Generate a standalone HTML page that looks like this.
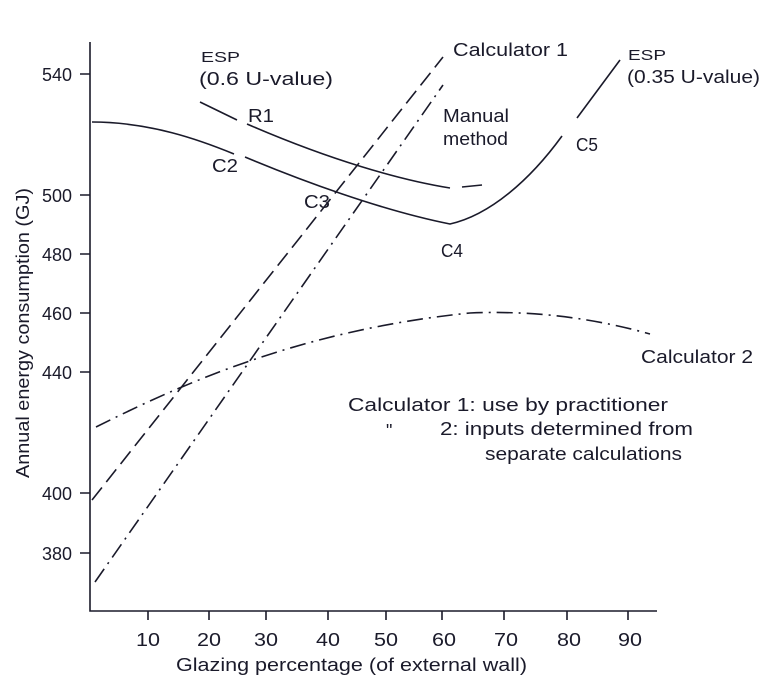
<!DOCTYPE html>
<html><head><style>
body{margin:0;background:#fff}
svg text{font-family:"Liberation Sans",sans-serif;fill:#1a1a2a}
</style></head><body>
<svg width="778" height="687" viewBox="0 0 778 687" xmlns="http://www.w3.org/2000/svg">
<g stroke="#1a1a2a" stroke-width="1.6" fill="none">
<path d="M90 42 V611 H657"/>
<path d="M80 74H90M80 195H90M80 254H90M80 313H90M80 372H90M80 493H90M80 553H90"/>
<path d="M148 611V620M209 611V620M266 611V620M328 611V620M386 611V620M442 611V620M504 611V620M567 611V620M628 611V620"/>
<path d="M200 102 L237 120 M247 124 C330 160 400 180 450 188 M462 187 L482 185"/>
<path d="M92 122 C150 122 200 140 234 154 M245 157 C300 180 380 210 450 224 C490 215 530 180 562 136 M577 118 L620 60"/>
<path d="M92 500 L443 57" stroke-dasharray="16,7"/>
<path d="M95 582 L443 85" stroke-dasharray="16,6,2,6"/>
<path d="M96 427 C180 385 300 330 470 313 C540 310 600 320 650 334" stroke-dasharray="16,6,2,6"/>
</g>
<g font-size="18">
<text x="42" y="81" textLength="30" lengthAdjust="spacingAndGlyphs">540</text>
<text x="42" y="202" textLength="30" lengthAdjust="spacingAndGlyphs">500</text>
<text x="42" y="261" textLength="30" lengthAdjust="spacingAndGlyphs">480</text>
<text x="42" y="320" textLength="30" lengthAdjust="spacingAndGlyphs">460</text>
<text x="42" y="379" textLength="30" lengthAdjust="spacingAndGlyphs">440</text>
<text x="42" y="500" textLength="30" lengthAdjust="spacingAndGlyphs">400</text>
<text x="42" y="560" textLength="30" lengthAdjust="spacingAndGlyphs">380</text>
<text x="136" y="646" textLength="24" lengthAdjust="spacingAndGlyphs">10</text>
<text x="197" y="646" textLength="24" lengthAdjust="spacingAndGlyphs">20</text>
<text x="254" y="646" textLength="24" lengthAdjust="spacingAndGlyphs">30</text>
<text x="316" y="646" textLength="24" lengthAdjust="spacingAndGlyphs">40</text>
<text x="374" y="646" textLength="24" lengthAdjust="spacingAndGlyphs">50</text>
<text x="432" y="646" textLength="24" lengthAdjust="spacingAndGlyphs">60</text>
<text x="494" y="646" textLength="24" lengthAdjust="spacingAndGlyphs">70</text>
<text x="557" y="646" textLength="24" lengthAdjust="spacingAndGlyphs">80</text>
<text x="618" y="646" textLength="24" lengthAdjust="spacingAndGlyphs">90</text>
<text x="176" y="671" textLength="351" lengthAdjust="spacingAndGlyphs">Glazing percentage (of external wall)</text>
<text transform="translate(29,478) rotate(-90)" textLength="290" lengthAdjust="spacingAndGlyphs">Annual energy consumption (GJ)</text>
<text x="201" y="62" font-size="15" textLength="39" lengthAdjust="spacingAndGlyphs">ESP</text>
<text x="199" y="85" textLength="134" lengthAdjust="spacingAndGlyphs">(0.6 U-value)</text>
<text x="248" y="122" textLength="26" lengthAdjust="spacingAndGlyphs">R1</text>
<text x="212" y="172" textLength="26" lengthAdjust="spacingAndGlyphs">C2</text>
<text x="304" y="208" textLength="26" lengthAdjust="spacingAndGlyphs">C3</text>
<text x="441" y="257" textLength="22" lengthAdjust="spacingAndGlyphs">C4</text>
<text x="576" y="151" textLength="22" lengthAdjust="spacingAndGlyphs">C5</text>
<text x="453" y="56" textLength="115" lengthAdjust="spacingAndGlyphs">Calculator 1</text>
<text x="443" y="122" textLength="66" lengthAdjust="spacingAndGlyphs">Manual</text>
<text x="443" y="145" textLength="65" lengthAdjust="spacingAndGlyphs">method</text>
<text x="628" y="60" font-size="15" textLength="38" lengthAdjust="spacingAndGlyphs">ESP</text>
<text x="627" y="83" textLength="133" lengthAdjust="spacingAndGlyphs">(0.35 U-value)</text>
<text x="641" y="363" textLength="112" lengthAdjust="spacingAndGlyphs">Calculator 2</text>
<text x="348" y="411" textLength="320" lengthAdjust="spacingAndGlyphs">Calculator 1: use by practitioner</text>
<text x="386" y="437">"</text>
<text x="440" y="435" textLength="253" lengthAdjust="spacingAndGlyphs">2: inputs determined from</text>
<text x="485" y="460" textLength="197" lengthAdjust="spacingAndGlyphs">separate calculations</text>
</g>
</svg>
</body></html>
